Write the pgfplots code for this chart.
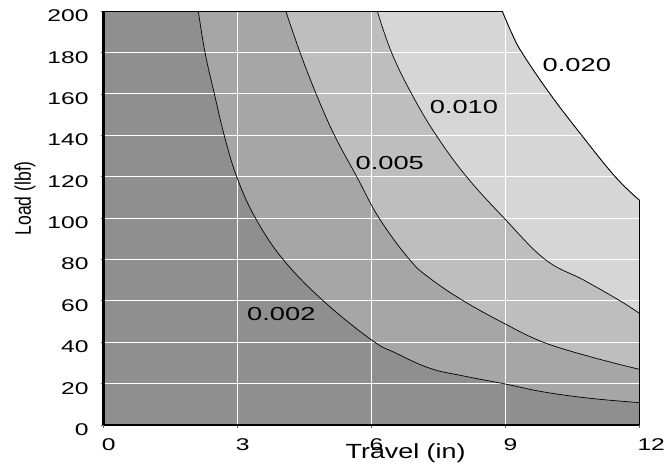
\documentclass[border=0pt]{standalone}
\usepackage{fontspec}
\setmainfont{Liberation Sans}[FakeStretch=1.45]
\newfontfamily\narrowfont{Liberation Sans}[FakeStretch=0.78]
\newfontfamily\xlabfont{Liberation Sans}[FakeStretch=1.31]
\usepackage{pgfplots}
\pgfplotsset{compat=1.18}
\definecolor{shadeA}{HTML}{8F8F8F}
\definecolor{shadeB}{HTML}{A6A6A6}
\definecolor{shadeC}{HTML}{BEBEBE}
\definecolor{shadeD}{HTML}{D6D6D6}

\begin{document}
\begin{tikzpicture}
\begin{axis}[
    at={(0,0)}, anchor=origin,
    scale only axis, width=535.6pt, height=413.8pt,
    xmin=0, xmax=12, ymin=0, ymax=200,
    xtick={0,3,...,12}, ytick={0,20,...,200},
    axis x line*=bottom, axis y line*=left,
    axis line style={black, line width=2.5pt},
    grid=major, grid style={white, line width=1pt},
    set layers, clip=false,
    tick align=outside, major tick length=3pt,
    tick style={black!60, line width=0.8pt},
    /pgf/number format/assume math mode=true,
    ticklabel style={font=\fontsize{17}{19}\selectfont, inner sep=0pt},
    xticklabel style={anchor=north west, xshift=-2pt, yshift=-10.5pt},
    yticklabel style={anchor=east, xshift=-12pt, yshift=-4.6pt},
    xlabel={\xlabfont\fontsize{20.5}{22}\selectfont Travel (in)},
    ylabel={\narrowfont\fontsize{22.5}{24}\selectfont Load (lbf)},
    every axis x label/.style={at={(axis description cs:0.5637,0)}, anchor=base, yshift=-34pt},
    every axis y label/.style={at={(axis description cs:-0.147,0.548)}, rotate=90, anchor=center},
    every axis plot/.append style={tension=0.65},
]

% shaded bands, lightest first (left block + area under each boundary)
\addplot[fill=shadeD, draw=none, on layer=axis background] coordinates {(0,200) (8.95,200)} \closedcycle;
\addplot[fill=shadeD, draw=none, smooth, on layer=axis background] coordinates {
  (8.93,200) (9.14,189.5) (9.37,180) (10.0,160) (10.71,140) (11.46,120) (12,108.7)} \closedcycle;
\addplot[fill=shadeC, draw=none, on layer=axis background] coordinates {(0,200) (6.15,200)} \closedcycle;
\addplot[fill=shadeC, draw=none, smooth, on layer=axis background] coordinates {
  (6.13,200) (6.45,180) (6.9,160) (7.45,140) (8.13,120) (8.97,100)
  (9.89,80) (10.75,70.1) (11.57,60) (12,54)} \closedcycle;
\addplot[fill=shadeB, draw=none, on layer=axis background] coordinates {(0,200) (4.10,200)} \closedcycle;
\addplot[fill=shadeB, draw=none, smooth, on layer=axis background] coordinates {
  (4.08,200) (4.40,180) (4.76,160) (5.17,140) (5.67,120) (6.17,100) (6.85,80)
  (7.31,70.9) (8.06,60) (9.0,48.8) (9.85,40) (10.9,33) (12,26.9)} \closedcycle;
\addplot[fill=shadeA, draw=none, on layer=axis background] coordinates {(0,200) (2.14,200)} \closedcycle;
\addplot[fill=shadeA, draw=none, smooth, on layer=axis background] coordinates {
  (2.12,200) (2.27,180) (2.48,160) (2.70,140) (2.98,120) (3.40,100) (4.02,80)
  (4.92,60) (6.0,41.1) (6.56,34.6) (7.31,27.4) (8.06,23.7) (9.0,19.8)
  (9.85,16) (10.9,12.9) (12,10.8)} \closedcycle;

% boundary lines
\addplot[black, line width=0.9pt, smooth] coordinates {
  (8.93,200) (9.14,189.5) (9.37,180) (10.0,160) (10.71,140) (11.46,120) (12,108.7)};
\addplot[black, line width=0.7pt, smooth] coordinates {
  (6.13,200) (6.45,180) (6.9,160) (7.45,140) (8.13,120) (8.97,100)
  (9.89,80) (10.75,70.1) (11.57,60) (12,54)};
\addplot[black, line width=0.7pt, smooth] coordinates {
  (4.08,200) (4.40,180) (4.76,160) (5.17,140) (5.67,120) (6.17,100) (6.85,80)
  (7.31,70.9) (8.06,60) (9.0,48.8) (9.85,40) (10.9,33) (12,26.9)};
\addplot[black, line width=0.7pt, smooth] coordinates {
  (2.12,200) (2.27,180) (2.48,160) (2.70,140) (2.98,120) (3.40,100) (4.02,80)
  (4.92,60) (6.0,41.1) (6.56,34.6) (7.31,27.4) (8.06,23.7) (9.0,19.8)
  (9.85,16) (10.9,12.9) (12,10.8)};
\addplot[black, line width=1pt] coordinates {(0,200) (8.93,200)};
\addplot[black, line width=1.2pt] coordinates {(12,108.7) (12,0)};

\node[font=\fontsize{18.8}{20}\selectfont, inner sep=0pt] at (axis cs:10.6,174) {0.020};
\node[font=\fontsize{18.8}{20}\selectfont, inner sep=0pt] at (axis cs:8.07,153.5) {0.010};
\node[font=\fontsize{18.8}{20}\selectfont, inner sep=0pt] at (axis cs:6.41,126.5) {0.005};
\node[font=\fontsize{18.8}{20}\selectfont, inner sep=0pt] at (axis cs:3.98,53.8) {0.002};
\end{axis}
\pgfresetboundingbox
\useasboundingbox (-103.7pt,-40pt) rectangle (567.3pt,425pt);
\end{tikzpicture}
\end{document}
